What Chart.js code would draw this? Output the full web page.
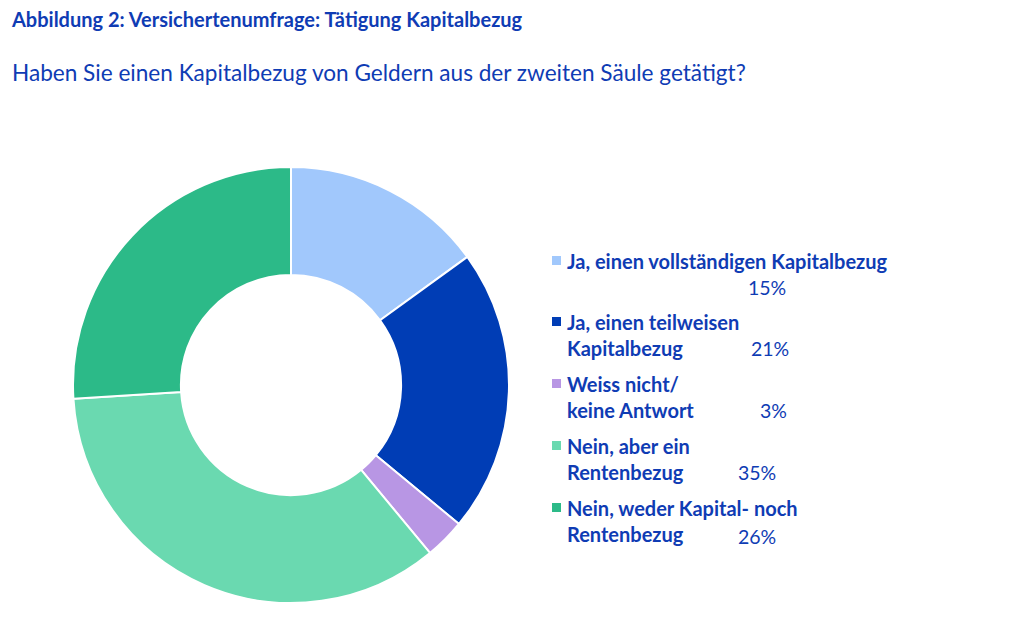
<!DOCTYPE html>
<html lang="de">
<head>
<meta charset="utf-8">
<script src="https://cdn.jsdelivr.net/npm/chart.js@4"></script>
<style>
    html, body { margin: 0; padding: 0; background: #fff; }
    body { width: 1024px; height: 627px; position: relative; overflow: hidden; font-family: Lato, 'Open Sans', sans-serif; color: #0f3cb4; }
    #titre { position: absolute; left: 12px; top: 7px; font-size: 20px; line-height: 24px; font-weight: bold; white-space: nowrap; }
    #question { position: absolute; left: 12px; top: 59px; font-size: 22.6px; line-height: 28px; white-space: nowrap; }
    #graphique { position: absolute; left: 72px; top: 166px; width: 438px; height: 438px; }
    .legende-item { position: absolute; left: 552px; font-size: 20px; font-weight: bold; line-height: 26px; white-space: nowrap; }
    .legende-carre { position: absolute; left: 0; top: 8px; width: 9px; height: 9px; }
    .legende-texte { position: absolute; left: 15px; top: 0; }
    .legende-pct { position: absolute; font-weight: normal; font-size: 19.5px; }
</style>
</head>
<body>
<div id="titre">Abbildung 2: Versichertenumfrage: Tätigung Kapitalbezug</div>
<div id="question">Haben Sie einen Kapitalbezug von Geldern aus der zweiten Säule getätigt?</div>
<div id="graphique"><canvas id="donut"></canvas></div>
<div id="legende"></div>
<script>
// --- Données ---
const categories = [
    ['Ja, einen vollständigen Kapitalbezug'],
    ['Ja, einen teilweisen', 'Kapitalbezug'],
    ['Weiss nicht/', 'keine Antwort'],
    ['Nein, aber ein', 'Rentenbezug'],
    ['Nein, weder Kapital- noch', 'Rentenbezug']
];
const valeurs = [15, 21, 3, 35, 26];
const couleurs = ['#a1c8fc', '#003db5', '#b896e4', '#6ad9b0', '#2cba88'];

// --- Mise en page de la légende (positions seulement) ---
const legendeTop = [248, 309, 371, 433, 495];
const pctPos = [
    { left: 196, top: 27 },
    { left: 199, top: 27 },
    { left: 208, top: 27 },
    { left: 186, top: 27 },
    { left: 186, top: 29 }
];

const legende = document.getElementById('legende');
categories.forEach((lignes, i) => {
    const item = document.createElement('div');
    item.className = 'legende-item';
    item.style.top = legendeTop[i] + 'px';
    item.innerHTML = `
        <div class="legende-carre" style="background:${couleurs[i]}"></div>
        <div class="legende-texte">${lignes.join('<br>')}</div>
        <div class="legende-pct" style="left:${pctPos[i].left}px;top:${pctPos[i].top}px">${valeurs[i]}%</div>`;
    legende.appendChild(item);
});

// --- Graphique ---
new Chart(document.getElementById('donut'), {
    type: 'doughnut',
    data: {
        labels: categories.map(l => l.join(' ')),
        datasets: [{
            data: valeurs,
            backgroundColor: couleurs,
            borderColor: '#ffffff',
            borderWidth: 2
        }]
    },
    options: {
        responsive: true,
        maintainAspectRatio: false,
        animation: false,
        cutout: '50.5%',
        layout: { padding: 0 },
        plugins: {
            legend: { display: false },
            tooltip: { enabled: false }
        }
    }
});
</script>
</body>
</html>
